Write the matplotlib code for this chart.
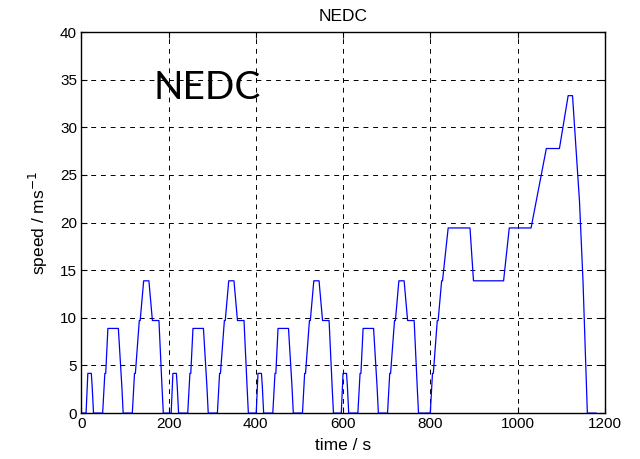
import numpy as np
from matplotlib import pyplot as plt

# ECE-15 urban cycle breakpoints (s, m/s), repeated 4 times
ece_t = [0, 11, 15, 23, 25, 28, 49, 54, 56, 61, 85, 93, 96, 117, 122, 124, 133,
         135, 143, 155, 163, 176, 178, 185, 188, 195]
ece_v = [0, 0, 4.17, 4.17, 2.78, 0, 0, 4.17, 4.17, 8.89, 8.89, 2.78, 0, 0, 4.17,
         4.17, 9.72, 9.72, 13.89, 13.89, 9.72, 9.72, 9.72, 2.78, 0, 0]
ece_starts = [0, 195, 390, 585]

# extra-urban part breakpoints (s, m/s), starts at 780 s
eudc_t = [0, 20, 25, 27, 36, 38, 46, 48, 61, 111, 119, 188, 201, 251, 286, 316,
          336, 346, 362, 370, 380, 400]
eudc_v = [0, 0, 4.17, 4.17, 9.72, 9.72, 13.89, 13.89, 19.44, 19.44, 13.89, 13.89,
          19.44, 19.44, 27.78, 27.78, 33.33, 33.33, 22.22, 13.89, 0, 0]
eudc_start = 780

t = []
v = []
for s in ece_starts:
    t += [s + i for i in ece_t]
    v += ece_v
t += [eudc_start + i for i in eudc_t]
v += eudc_v

plt.rcParams['font.family'] = ['Liberation Sans', 'DejaVu Sans']
fig = plt.figure(figsize=(6.4, 4.59), dpi=100)
ax = fig.add_axes([0.127, 0.100, 0.818, 0.830])
ax.plot(t, v, color="#0000ff", lw=0.9)
ax.set_xlim(0, 1200)
ax.set_ylim(0, 40)
ax.set_xticks(np.arange(0, 1201, 200))
ax.set_yticks(np.arange(0, 41, 5))
ax.grid(True, color="black", linestyle=(0, (5, 5)), linewidth=0.7)
ax.tick_params(direction="in", top=True, right=True, labelsize=11, length=4, pad=3)
for sp in ax.spines.values():
    sp.set_linewidth(1.0)
ax.set_title("NEDC", fontsize=12.5, pad=8)
ax.set_xlabel("time / s", fontsize=12.5, labelpad=5)
ax.set_ylabel("speed / ms$^{-1}$", fontsize=12.5, labelpad=7)
ax.text(165, 33.0, "NEDC", fontsize=28, family="Lato", ha="left", va="baseline")
fig.savefig("out.png", dpi=100)
